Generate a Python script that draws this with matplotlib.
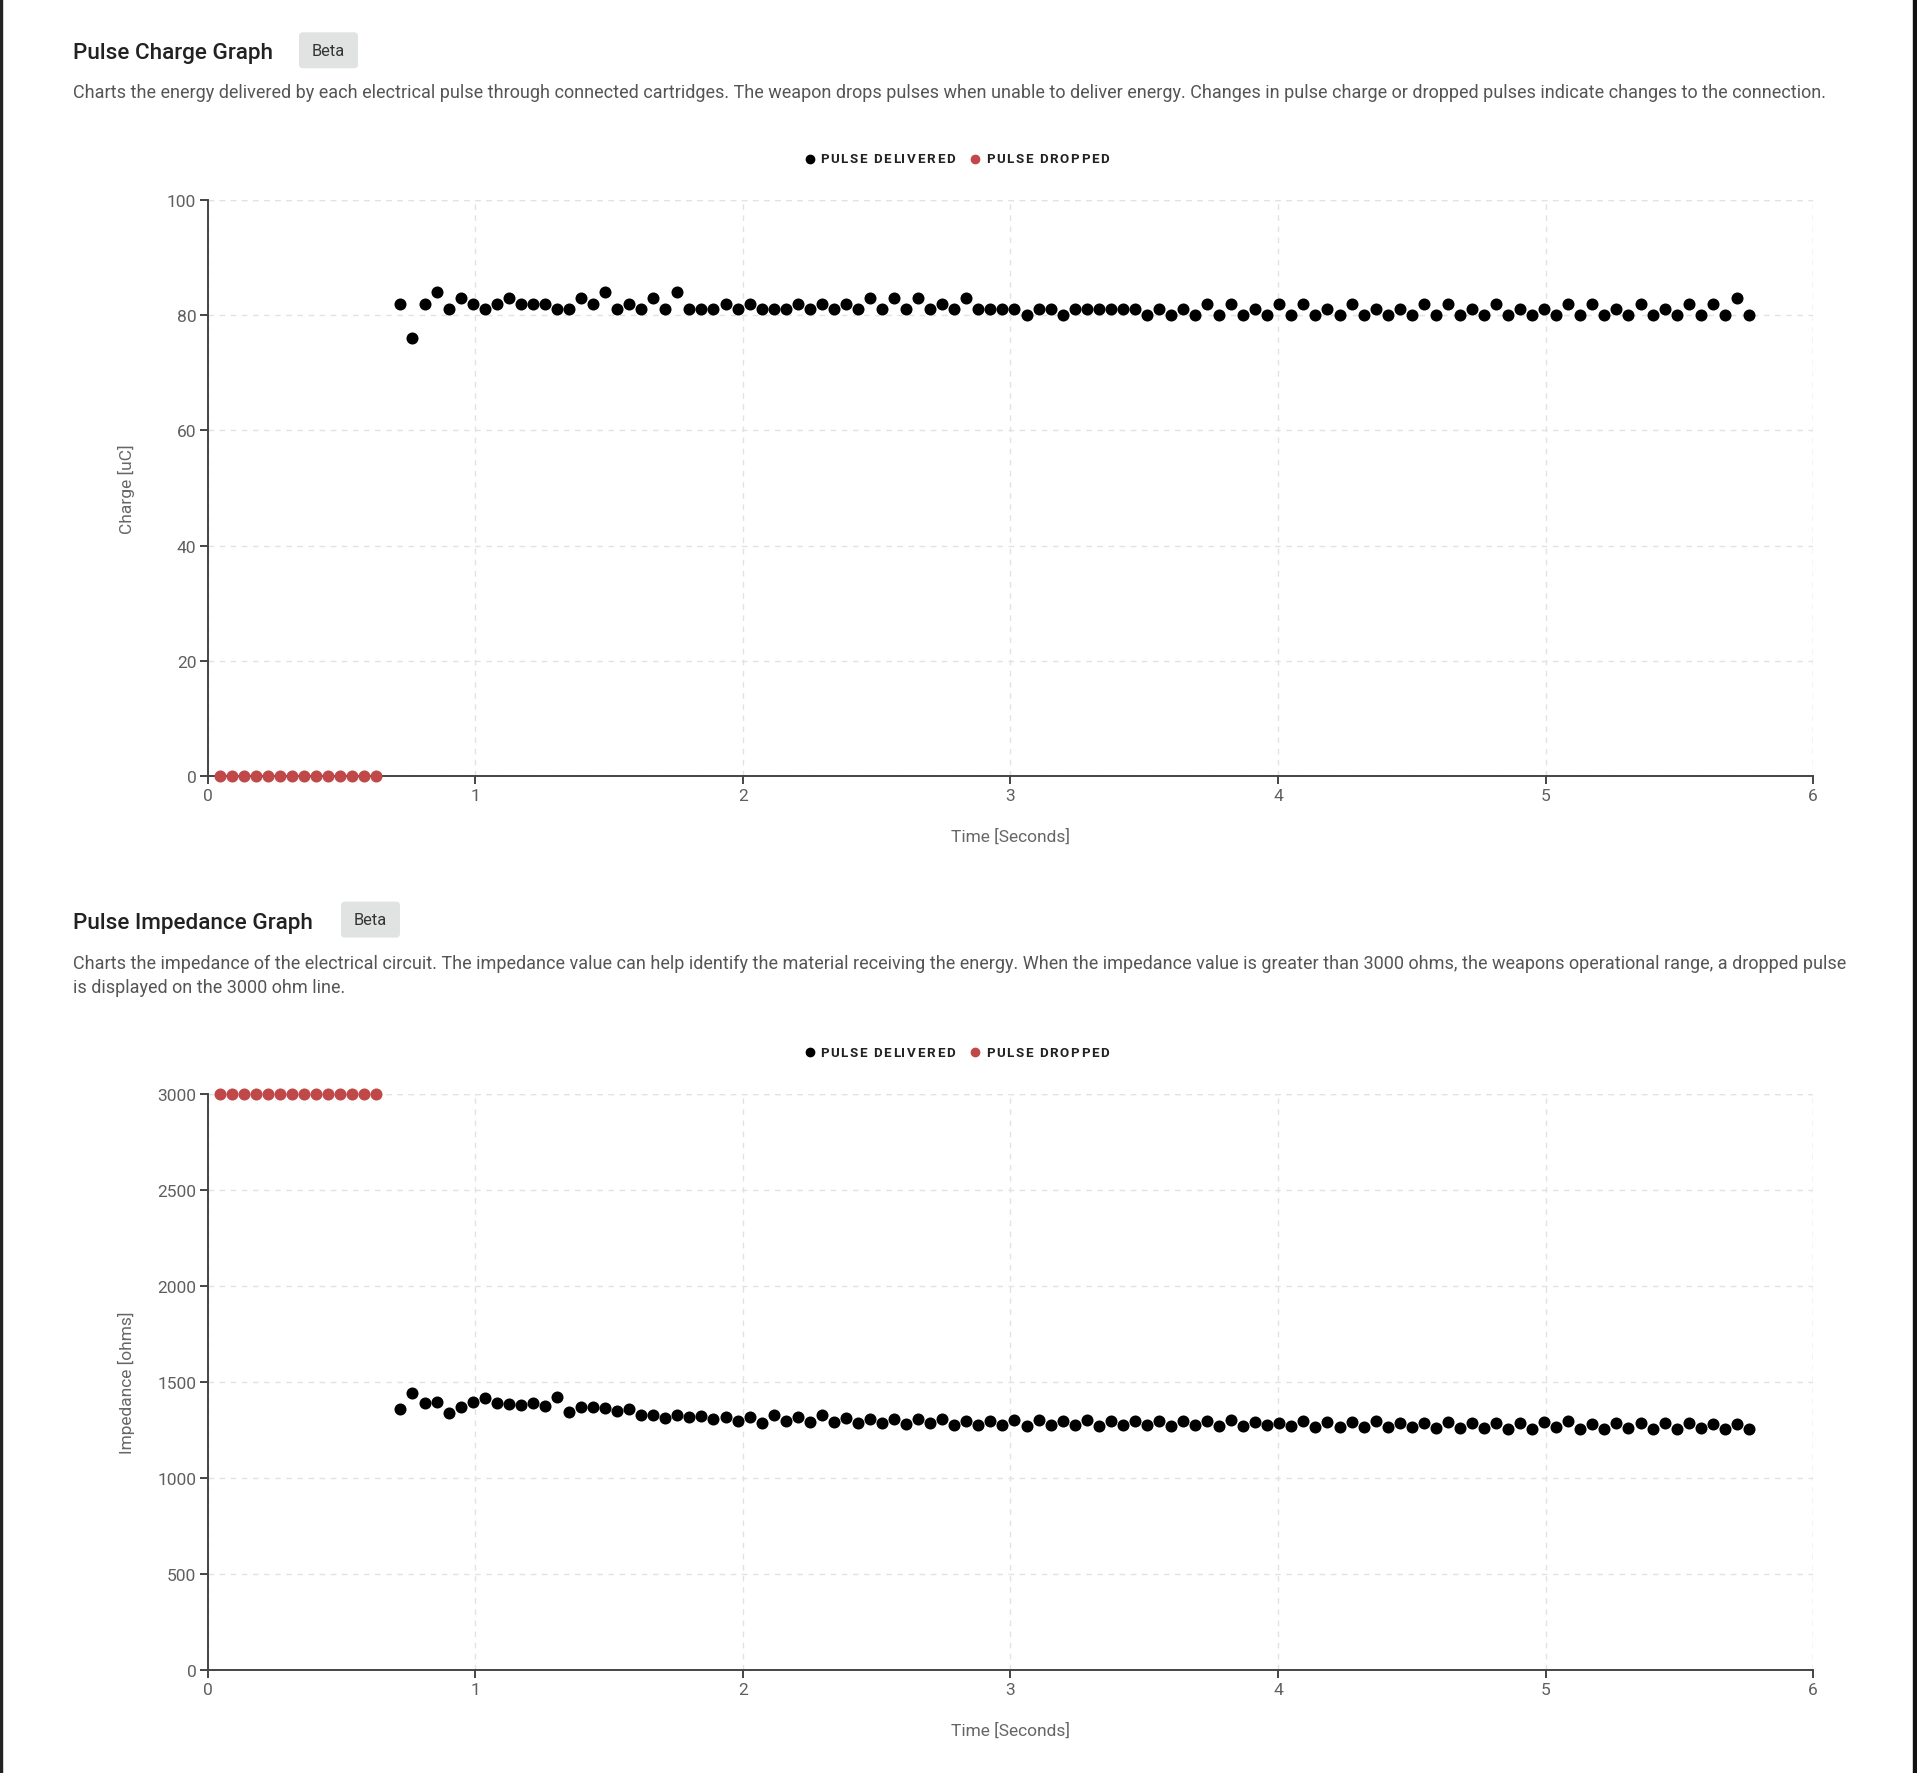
import matplotlib
matplotlib.use("Agg")
import matplotlib.pyplot as plt
from matplotlib.patches import FancyBboxPatch, Rectangle
from matplotlib.lines import Line2D
from matplotlib.transforms import IdentityTransform

plt.rcParams['font.family'] = ['Roboto', 'DejaVu Sans']

# pulse times in seconds
dropped_t = [0.045, 0.09, 0.135, 0.18, 0.225, 0.27, 0.315, 0.36, 0.405, 0.45,
             0.495, 0.54, 0.585, 0.63]
delivered_t = [
    0.72, 0.765, 0.81, 0.855, 0.9, 0.945, 0.99, 1.035, 1.08, 1.125,
    1.17, 1.215, 1.26, 1.305, 1.35, 1.395, 1.44, 1.485, 1.53, 1.575,
    1.62, 1.665, 1.71, 1.755, 1.8, 1.845, 1.89, 1.935, 1.98, 2.025,
    2.07, 2.115, 2.16, 2.205, 2.25, 2.295, 2.34, 2.385, 2.43, 2.475,
    2.52, 2.565, 2.61, 2.655, 2.7, 2.745, 2.79, 2.835, 2.88, 2.925,
    2.97, 3.015, 3.06, 3.105, 3.15, 3.195, 3.24, 3.285, 3.33, 3.375,
    3.42, 3.465, 3.51, 3.555, 3.6, 3.645, 3.69, 3.735, 3.78, 3.825,
    3.87, 3.915, 3.96, 4.005, 4.05, 4.095, 4.14, 4.185, 4.23, 4.275,
    4.32, 4.365, 4.41, 4.455, 4.5, 4.545, 4.59, 4.635, 4.68, 4.725,
    4.77, 4.815, 4.86, 4.905, 4.95, 4.995, 5.04, 5.085, 5.13, 5.175,
    5.22, 5.265, 5.31, 5.355, 5.4, 5.445, 5.49, 5.535, 5.58, 5.625,
    5.67, 5.715, 5.76]

# charge [uC]
charge_dropped = [0, 0, 0, 0, 0, 0, 0, 0, 0, 0, 0, 0, 0, 0]
charge_delivered = [
    82, 76, 82, 84, 81, 83, 82, 81, 82, 83, 82, 82, 82, 81, 81, 83, 82, 84, 81, 82,
    81, 83, 81, 84, 81, 81, 81, 82, 81, 82, 81, 81, 81, 82, 81, 82, 81, 82, 81,
    83, 81, 83, 81, 83, 81, 82, 81, 83, 81, 81, 81, 81, 80, 81, 81, 80, 81, 81, 81,
    81, 81, 81, 80, 81, 80, 81, 80, 82, 80, 82, 80, 81, 80, 82, 80, 82, 80, 81,
    80, 82, 80, 81, 80, 81, 80, 82, 80, 82, 80, 81, 80, 82, 80, 81, 80, 81, 80, 82,
    80, 82, 80, 81, 80, 82, 80, 81, 80, 82, 80, 82, 80, 83, 80]

# impedance [ohms]
impedance_dropped = [3000, 3000, 3000, 3000, 3000, 3000, 3000, 3000, 3000, 3000,
                     3000, 3000, 3000, 3000]
impedance_delivered = [
    1358, 1441, 1389, 1396, 1337, 1372, 1396, 1417, 1389, 1385,
    1378, 1389, 1375, 1420, 1344, 1372, 1368, 1365, 1347, 1358,
    1330, 1326, 1312, 1330, 1319, 1323, 1309, 1319, 1295, 1319,
    1288, 1326, 1295, 1316, 1292, 1326, 1292, 1312, 1288, 1306,
    1288, 1306, 1281, 1306, 1288, 1306, 1278, 1299, 1278, 1299,
    1274, 1302, 1271, 1302, 1278, 1299, 1278, 1302, 1271, 1299,
    1274, 1299, 1274, 1299, 1271, 1299, 1274, 1295, 1271, 1302,
    1271, 1292, 1274, 1288, 1271, 1295, 1264, 1292, 1267, 1292,
    1264, 1295, 1264, 1288, 1267, 1288, 1260, 1292, 1260, 1288,
    1260, 1288, 1253, 1288, 1253, 1292, 1264, 1295, 1253, 1281,
    1257, 1288, 1260, 1285, 1257, 1288, 1257, 1285, 1260, 1281,
    1257, 1281, 1253]

W, H = 1917, 1774
RED = '#c04848'
fig = plt.figure(figsize=(W / 100, H / 100), dpi=100)
renderer = fig.canvas.get_renderer()


def fx(px):
    return px / W


def fy(py):
    return 1 - py / H


def text_width(s, **kw):
    t = fig.text(0, 0, s + '|', **kw)
    w = t.get_window_extent(renderer).width
    t.remove()
    t = fig.text(0, 0, '|', **kw)
    w -= t.get_window_extent(renderer).width
    t.remove()
    return w


def spaced_text(x, y, s, spacing, **kw):
    # letter-spaced label, one glyph at a time
    for i, ch in enumerate(s):
        if ch == ' ':
            continue
        off = text_width(s[:i], **kw) if i else 0
        fig.text(fx(x + off + i * spacing), fy(y), ch, ha='left', va='center', **kw)


def header(title, title_y, badge_x, desc_lines, desc_y, legend_y):
    fig.text(fx(73), fy(title_y), title, fontsize=16.2, fontweight='medium',
             color='#222222', va='baseline', ha='left')
    badge = FancyBboxPatch((badge_x, H - (title_y + 10)), 59, 36,
                           boxstyle='round,pad=0,rounding_size=4',
                           fc='#e1e2e2', ec='none', transform=IdentityTransform())
    fig.add_artist(badge)
    fig.text(fx(badge_x + 29.5), fy(title_y - 8), 'Beta', fontsize=11.8,
             color='#333333', ha='center', va='center')
    for i, line in enumerate(desc_lines):
        fig.text(fx(73), fy(desc_y + i * 24.5), line, fontsize=12.93,
                 color='#555555', va='baseline', ha='left')
    # legend
    for mx, tx, col, lab in [(810, 820, 'black', 'PULSE DELIVERED'),
                             (975, 986, RED, 'PULSE DROPPED')]:
        fig.add_artist(Line2D([fx(mx)], [fy(legend_y)], marker='o', ms=6,
                              color=col, transform=fig.transFigure))
        spaced_text(tx, legend_y, lab, 1.55, fontsize=9.6, fontweight='bold',
                    color='#222222')


def style_axes(ax, ymax, yticks, ylabel, ylab_y):
    ax.set_xlim(0, 6)
    ax.set_ylim(0, ymax)
    ax.set_xticks([0, 1, 2, 3, 4, 5, 6])
    ax.set_yticks(yticks)
    for s in ['top', 'right']:
        ax.spines[s].set_visible(False)
    for s in ['left', 'bottom']:
        ax.spines[s].set_color('#444444')
        ax.spines[s].set_linewidth(1.4)
    ax.tick_params(length=5.8, width=1.4, color='#444444', labelcolor='#5f5f5f',
                   labelsize=12.5, pad=2.5)
    ax.grid(True, color='#e2e2e2', linestyle=(0, (4, 4)), linewidth=1)
    ax.set_axisbelow(True)
    ax.axvline(6, color='#e2e2e2', linestyle=(0, (4, 4)), linewidth=1, zorder=0)
    ax.axhline(ymax, color='#e2e2e2', linestyle=(0, (4, 4)), linewidth=1, zorder=0)
    fig.text(fx(126), fy(ylab_y), ylabel, rotation=90, fontsize=12.5,
             color='#666666', ha='center', va='center')


# ---- Pulse Charge Graph ----
header('Pulse Charge Graph', 59.3, 299,
       ['Charts the energy delivered by each electrical pulse through connected cartridges. '
        'The weapon drops pulses when unable to deliver energy. Changes in pulse charge or '
        'dropped pulses indicate changes to the connection.'],
       98.2, 159.5)

ax1 = fig.add_axes([fx(207.8), fy(777), (1813.1 - 207.8) / W, (777 - 201) / H])
ax1.scatter(delivered_t, charge_delivered, s=75, color='black', zorder=3, clip_on=False,
            linewidths=0)
ax1.scatter(dropped_t, charge_dropped, s=75, color=RED, zorder=3, clip_on=False,
            linewidths=0)
style_axes(ax1, 100, [0, 20, 40, 60, 80, 100], 'Charge [uC]', 489)
fig.text(fx(1010), fy(837), 'Time [Seconds]', fontsize=12.5, color='#666666',
         ha='center', va='center')

# ---- Pulse Impedance Graph ----
header('Pulse Impedance Graph', 928.6, 341,
       ['Charts the impedance of the electrical circuit. The impedance value can help identify '
        'the material receiving the energy. When the impedance value is greater than 3000 ohms, '
        'the weapons operational range, a dropped pulse',
        'is displayed on the 3000 ohm line.'],
       968.6, 1053.4)

ax2 = fig.add_axes([fx(207.8), fy(1671), (1813.1 - 207.8) / W, (1671 - 1095) / H])
ax2.scatter(delivered_t, impedance_delivered, s=75, color='black', zorder=3, clip_on=False,
            linewidths=0)
ax2.scatter(dropped_t, impedance_dropped, s=75, color=RED, zorder=3, clip_on=False,
            linewidths=0)
style_axes(ax2, 3000, [0, 500, 1000, 1500, 2000, 2500, 3000], 'Impedance [ohms]', 1383)
fig.text(fx(1010), fy(1731), 'Time [Seconds]', fontsize=12.5, color='#666666',
         ha='center', va='center')

# page borders
fig.add_artist(Rectangle((0, 0), 2, H, color='#222222', transform=IdentityTransform()))
fig.add_artist(Rectangle((W - 4, 0), 4, H, color='#111111', transform=IdentityTransform()))

fig.savefig('out.png', dpi=100, facecolor='white')
